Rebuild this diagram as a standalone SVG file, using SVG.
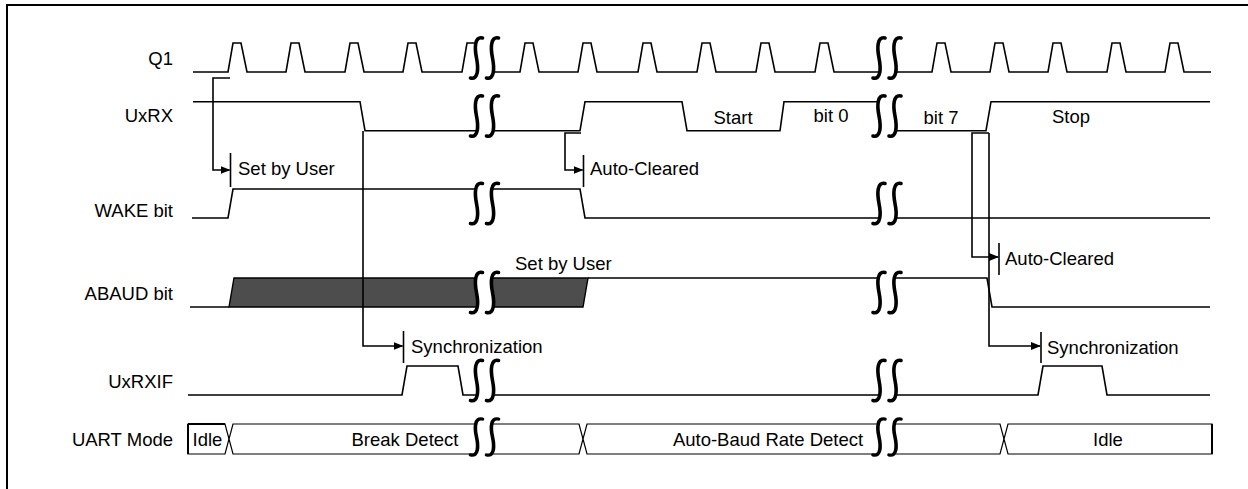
<svg xmlns="http://www.w3.org/2000/svg" width="1248" height="489" viewBox="0 0 1248 489">
<style>
.sig{fill:none;stroke:#000;stroke-width:1.6}
.lbl{font-family:"Liberation Sans",Arial,sans-serif;font-size:18.5px;fill:#000}
.end{text-anchor:end}
.mid{text-anchor:middle}
.con{fill:none;stroke:#000;stroke-width:1.6}
.tick{stroke:#000;stroke-width:1.6}
.bus{fill:#fff;stroke:#000;stroke-width:1.2}
.brkc{fill:none;stroke:#000;stroke-width:3.6;stroke-linecap:round}
</style>
<defs>
<marker id="ah" markerWidth="10" markerHeight="8" refX="9" refY="4" orient="auto" markerUnits="userSpaceOnUse"><path d="M0,0 L10,4 L0,8 Z" fill="#000"/></marker>
<g id="brk">
<path d="M-2,-20 C-10,-22 -10,-10 -8,0 C-6,10 -6,22 -14,20 L2,20 C10,22 10,10 8,0 C6,-10 6,-22 14,-20 Z" fill="#fff"/>
<path class="brkc" d="M-2,-20 C-10,-22 -10,-10 -8,0 C-6,10 -6,22 -14,20"/>
<path class="brkc" d="M14,-20 C6,-22 6,-10 8,0 C10,10 10,22 2,20"/>
</g>
</defs>
<rect width="1248" height="489" fill="#fff"/>
<path d="M7,489 V5 H1248" fill="none" stroke="#000" stroke-width="2"/>

<g id="Q1">
<text class="lbl end" x="173" y="65">Q1</text>
<path class="sig" d="M193,72 H228 L233,43 H241 L247,72 H286 L291,43 H299 L305,72 H345 L350,43 H358 L364,72 H403 L408,43 H416 L422,72 H462 L467,43 H484 V72 H520 L525,43 H533 L539,72 H578 L583,43 H591 L597,72 H638 L643,43 H651 L657,72 H697 L702,43 H710 L716,72 H756 L761,43 H769 L775,72 H815 L820,43 H828 L834,72 H932 L937,43 H945 L951,72 H990 L995,43 H1003 L1009,72 H1048 L1053,43 H1061 L1067,72 H1107 L1112,43 H1120 L1126,72 H1165 L1170,43 H1178 L1184,72 H1211"/>
<use href="#brk" transform="translate(484.5,58)"/>
<use href="#brk" transform="translate(887,58)"/>
</g>

<g id="UxRX">
<text class="lbl end" x="173" y="122">UxRX</text>
<path class="sig" d="M193,101.7 H360 L365,130.7 H580 L585,101.7 H682 L687,130.7 H780 L784,101.7 H887 V130.7 H986 L991,101.7 H1210"/>
<use href="#brk" transform="translate(484.5,116)"/>
<use href="#brk" transform="translate(887,116)"/>
<text class="lbl mid" x="733" y="124">Start</text>
<text class="lbl mid" x="831" y="122">bit 0</text>
<text class="lbl mid" x="941" y="124">bit 7</text>
<text class="lbl mid" x="1071" y="123">Stop</text>
</g>

<g id="WAKE">
<text class="lbl end" x="173" y="217">WAKE bit</text>
<path class="sig" d="M192,218 H228 L233,189 H580 L585,218 H1210"/>
<use href="#brk" transform="translate(484.5,203.5)"/>
<use href="#brk" transform="translate(887,203.5)"/>
</g>

<g id="ABAUD">
<text class="lbl end" x="173" y="300">ABAUD bit</text>
<path d="M229,307 L234,278 L588,278 L583,307 Z" fill="#4d4d4d" stroke="#000" stroke-width="1.4"/>
<path class="sig" d="M190,307 H229"/>
<path class="sig" d="M588,278 H987 L992,307 H1210"/>
<use href="#brk" transform="translate(484.5,292.5)"/>
<use href="#brk" transform="translate(887,292.5)"/>
</g>

<g id="UxRXIF">
<text class="lbl end" x="173" y="388">UxRXIF</text>
<path class="sig" d="M188,395 H402 L407,366 H458 L463,395 H1038 L1043,366 H1102 L1107,395 H1210"/>
<use href="#brk" transform="translate(484.5,380.5)"/>
<use href="#brk" transform="translate(887,380.5)"/>
</g>

<g id="UARTMode">
<text class="lbl end" x="173" y="446">UART Mode</text>
<path class="bus" d="M188,424 H225 L229,439 L225,454 H188 Z"/>
<path d="M188,424 V454 M188,424 H225" fill="none" stroke="#000" stroke-width="2"/>
<path class="bus" d="M233,424 H579 L583,439 L579,454 H233 L229,439 Z"/>
<path class="bus" d="M587,424 H1000 L1004,439 L1000,454 H587 L583,439 Z"/>
<path class="bus" d="M1008,424 H1212 V454 H1008 L1004,439 Z"/>
<path d="M1212,424 V454" stroke="#000" stroke-width="2"/>
<use href="#brk" transform="translate(484.5,437) scale(1,0.9)"/>
<use href="#brk" transform="translate(887,437) scale(1,0.9)"/>
<text class="lbl mid" x="207.5" y="446">Idle</text>
<text class="lbl mid" x="405" y="446">Break Detect</text>
<text class="lbl mid" x="768" y="446">Auto-Baud Rate Detect</text>
<text class="lbl mid" x="1108" y="446">Idle</text>
</g>

<g id="connectors">
<path class="con" d="M230,78 H213 V170 H229.5" marker-end="url(#ah)"/>
<line class="tick" x1="230.5" y1="153" x2="230.5" y2="187"/>
<text class="lbl" x="238" y="175">Set by User</text>
<path class="con" d="M581,133 H565 V170 H582.5" marker-end="url(#ah)"/>
<line class="tick" x1="583.5" y1="155" x2="583.5" y2="187"/>
<text class="lbl" x="590" y="175">Auto-Cleared</text>
<text class="lbl" x="515" y="270">Set by User</text>
<path class="con" d="M363,131 V346 H402.5" marker-end="url(#ah)"/>
<line class="tick" x1="403.5" y1="331" x2="403.5" y2="363"/>
<text class="lbl" x="411" y="353">Synchronization</text>
<path class="con" d="M989,133 H972 V257 H998" marker-end="url(#ah)"/>
<line class="tick" x1="999" y1="243" x2="999" y2="275"/>
<text class="lbl" x="1005" y="265">Auto-Cleared</text>
<path class="con" d="M989,133 V346 H1040" marker-end="url(#ah)"/>
<line class="tick" x1="1041" y1="332" x2="1041" y2="363"/>
<text class="lbl" x="1047" y="354">Synchronization</text>
</g>
</svg>
